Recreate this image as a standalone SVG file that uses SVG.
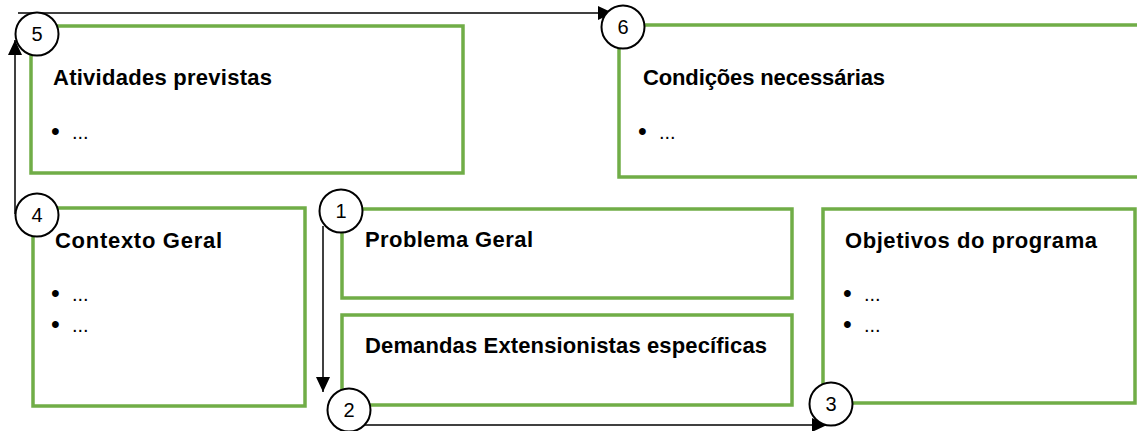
<svg xmlns="http://www.w3.org/2000/svg" width="1137" height="431" viewBox="0 0 1137 431">
<style>
.box{fill:#fff;stroke:#70AD47;stroke-width:3.5}
.num{fill:#fff;stroke:#000;stroke-width:2}
.conn{fill:none;stroke:#000;stroke-width:1.5}
.t{font-family:"Liberation Sans",Arial,sans-serif;font-weight:bold;font-size:22px;fill:#000}
.n{font-family:"Liberation Sans",Arial,sans-serif;font-size:20px;fill:#000;text-anchor:middle}
.b{font-family:"Liberation Sans",Arial,sans-serif;font-size:20px;fill:#000}
.bu{font-size:25px}
</style>
<defs>
<marker id="arr" markerUnits="userSpaceOnUse" markerWidth="16" markerHeight="16" refX="15" refY="7" orient="auto">
<path d="M0,0 L15,7 L0,14 Z" fill="#000"/>
</marker>
</defs>
<rect width="1137" height="431" fill="#fff"/>
<g id="connectors">
<path class="conn" d="M15,214 V40" marker-end="url(#arr)"/>
<path class="conn" d="M18,13 H613" marker-end="url(#arr)"/>
<path class="conn" d="M323,226 V392" marker-end="url(#arr)"/>
<path class="conn" d="M360,425 H827" marker-end="url(#arr)"/>
</g>
<g id="node5">
<rect class="box" x="31" y="26" width="432" height="147"/>
<circle class="num" cx="37" cy="34" r="21.5"/>
<text class="n" x="37" y="41">5</text>
<text class="t" x="53" y="85" textLength="219">Atividades previstas</text>
<text class="b" x="51" y="139"><tspan class="bu" dy="1">•</tspan><tspan x="72" dy="-1">...</tspan></text>
</g>
<g id="node6">
<rect class="box" x="619" y="25" width="530" height="152"/>
<circle class="num" cx="623" cy="27" r="21.5"/>
<text class="n" x="623" y="34">6</text>
<text class="t" x="643" y="85" textLength="242">Condições necessárias</text>
<text class="b" x="638" y="139"><tspan class="bu" dy="1">•</tspan><tspan x="659" dy="-1">...</tspan></text>
</g>
<g id="node4">
<rect class="box" x="33" y="208" width="272" height="198"/>
<circle class="num" cx="37" cy="215" r="21.5"/>
<text class="n" x="37" y="222">4</text>
<text class="t" x="55" y="248" textLength="167">Contexto Geral</text>
<text class="b" x="51" y="301"><tspan class="bu" dy="1">•</tspan><tspan x="72" dy="-1">...</tspan></text>
<text class="b" x="51" y="332"><tspan class="bu" dy="1">•</tspan><tspan x="72" dy="-1">...</tspan></text>
</g>
<g id="node1">
<rect class="box" x="342" y="209" width="450" height="89"/>
<circle class="num" cx="341" cy="211" r="21.5"/>
<text class="n" x="341" y="218">1</text>
<text class="t" x="365" y="247" textLength="168">Problema Geral</text>
</g>
<g id="node2">
<rect class="box" x="342" y="315" width="450" height="90"/>
<circle class="num" cx="349" cy="410" r="21.5"/>
<text class="n" x="349" y="417">2</text>
<text class="t" x="365" y="353" textLength="402">Demandas Extensionistas específicas</text>
</g>
<g id="node3">
<rect class="box" x="823" y="209" width="312" height="194"/>
<circle class="num" cx="831" cy="404" r="21.5"/>
<text class="n" x="831" y="411">3</text>
<text class="t" x="845" y="248" textLength="252">Objetivos do programa</text>
<text class="b" x="843" y="301"><tspan class="bu" dy="1">•</tspan><tspan x="864" dy="-1">...</tspan></text>
<text class="b" x="843" y="332"><tspan class="bu" dy="1">•</tspan><tspan x="864" dy="-1">...</tspan></text>
</g>
</svg>
